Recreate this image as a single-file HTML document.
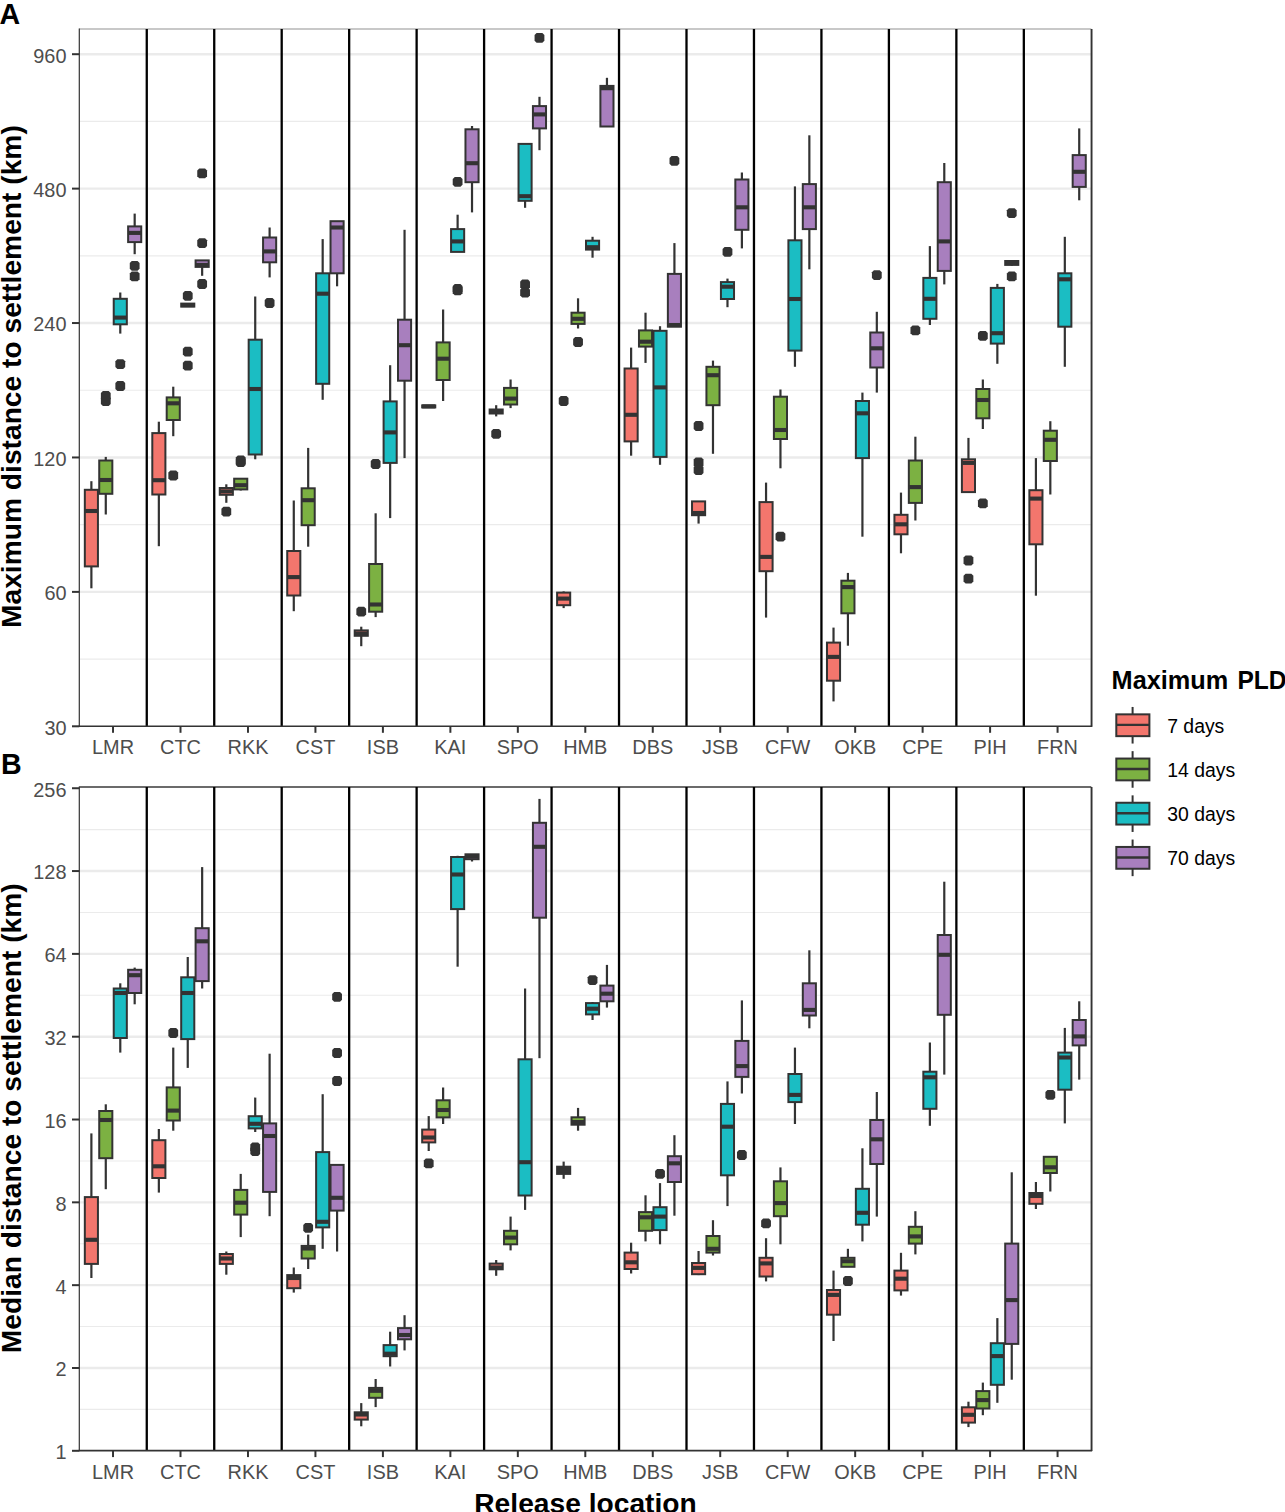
<!DOCTYPE html>
<html><head><meta charset="utf-8"><title>PLD boxplots</title>
<style>
html,body{margin:0;padding:0;background:#fff;}
body{width:1285px;height:1512px;overflow:hidden;}
svg{display:block;}
text{font-family:"Liberation Sans",sans-serif;}
.tk{font-size:19.9px;fill:#4D4D4D;}
.lg{font-size:19.4px;fill:#000;}
.ttl{font-size:28.2px;font-weight:bold;fill:#000;}
.tag{font-size:28.6px;font-weight:bold;fill:#000;}
.lt{font-size:25.3px;font-weight:bold;fill:#000;}
</style></head>
<body>
<svg width="1285" height="1512" viewBox="0 0 1285 1512">
<rect width="1285" height="1512" fill="#fff"/>
<line x1="79.3" x2="1091.3" y1="659.09" y2="659.09" stroke="#EBEBEB" stroke-width="1.1"/>
<line x1="79.3" x2="1091.3" y1="524.67" y2="524.67" stroke="#EBEBEB" stroke-width="1.1"/>
<line x1="79.3" x2="1091.3" y1="390.25" y2="390.25" stroke="#EBEBEB" stroke-width="1.1"/>
<line x1="79.3" x2="1091.3" y1="255.83" y2="255.83" stroke="#EBEBEB" stroke-width="1.1"/>
<line x1="79.3" x2="1091.3" y1="121.41" y2="121.41" stroke="#EBEBEB" stroke-width="1.1"/>
<line x1="79.3" x2="1091.3" y1="591.88" y2="591.88" stroke="#EBEBEB" stroke-width="2.4"/>
<line x1="79.3" x2="1091.3" y1="457.46" y2="457.46" stroke="#EBEBEB" stroke-width="2.4"/>
<line x1="79.3" x2="1091.3" y1="323.04" y2="323.04" stroke="#EBEBEB" stroke-width="2.4"/>
<line x1="79.3" x2="1091.3" y1="188.62" y2="188.62" stroke="#EBEBEB" stroke-width="2.4"/>
<line x1="79.3" x2="1091.3" y1="54.2" y2="54.2" stroke="#EBEBEB" stroke-width="2.4"/>
<line x1="79.3" x2="1091.3" y1="29" y2="29" stroke="#C8C8C8" stroke-width="2"/>
<line x1="146.77" x2="146.77" y1="28.9" y2="726.3" stroke="#000" stroke-width="2.3"/>
<line x1="214.23" x2="214.23" y1="28.9" y2="726.3" stroke="#000" stroke-width="2.3"/>
<line x1="281.7" x2="281.7" y1="28.9" y2="726.3" stroke="#000" stroke-width="2.3"/>
<line x1="349.17" x2="349.17" y1="28.9" y2="726.3" stroke="#000" stroke-width="2.3"/>
<line x1="416.63" x2="416.63" y1="28.9" y2="726.3" stroke="#000" stroke-width="2.3"/>
<line x1="484.1" x2="484.1" y1="28.9" y2="726.3" stroke="#000" stroke-width="2.3"/>
<line x1="551.57" x2="551.57" y1="28.9" y2="726.3" stroke="#000" stroke-width="2.3"/>
<line x1="619.03" x2="619.03" y1="28.9" y2="726.3" stroke="#000" stroke-width="2.3"/>
<line x1="686.5" x2="686.5" y1="28.9" y2="726.3" stroke="#000" stroke-width="2.3"/>
<line x1="753.97" x2="753.97" y1="28.9" y2="726.3" stroke="#000" stroke-width="2.3"/>
<line x1="821.43" x2="821.43" y1="28.9" y2="726.3" stroke="#000" stroke-width="2.3"/>
<line x1="888.9" x2="888.9" y1="28.9" y2="726.3" stroke="#000" stroke-width="2.3"/>
<line x1="956.37" x2="956.37" y1="28.9" y2="726.3" stroke="#000" stroke-width="2.3"/>
<line x1="1023.83" x2="1023.83" y1="28.9" y2="726.3" stroke="#000" stroke-width="2.3"/>
<line x1="91.38" x2="91.38" y1="481.2" y2="489.8" stroke="#333333" stroke-width="2.2"/>
<line x1="91.38" x2="91.38" y1="566.4" y2="588.3" stroke="#333333" stroke-width="2.2"/>
<rect x="84.83" y="489.8" width="13.1" height="76.6" fill="#F3766D" stroke="#333333" stroke-width="2.0"/>
<line x1="84.83" x2="97.93" y1="511" y2="511" stroke="#333333" stroke-width="4.1"/>
<line x1="105.78" x2="105.78" y1="456.9" y2="460.5" stroke="#333333" stroke-width="2.2"/>
<line x1="105.78" x2="105.78" y1="493.8" y2="514.5" stroke="#333333" stroke-width="2.2"/>
<rect x="99.23" y="460.5" width="13.1" height="33.3" fill="#7CB142" stroke="#333333" stroke-width="2.0"/>
<line x1="99.23" x2="112.33" y1="480" y2="480" stroke="#333333" stroke-width="4.1"/>
<polygon points="102.88,391.1 108.68,391.1 110.68,393.1 110.68,398.9 108.68,400.9 102.88,400.9 100.88,398.9 100.88,393.1" fill="#333333"/>
<polygon points="102.88,396.1 108.68,396.1 110.68,398.1 110.68,403.9 108.68,405.9 102.88,405.9 100.88,403.9 100.88,398.1" fill="#333333"/>
<line x1="120.28" x2="120.28" y1="292.5" y2="298.8" stroke="#333333" stroke-width="2.2"/>
<line x1="120.28" x2="120.28" y1="324.3" y2="333.6" stroke="#333333" stroke-width="2.2"/>
<rect x="113.73" y="298.8" width="13.1" height="25.5" fill="#1BBDC3" stroke="#333333" stroke-width="2.0"/>
<line x1="113.73" x2="126.83" y1="317.6" y2="317.6" stroke="#333333" stroke-width="4.1"/>
<polygon points="117.38,359.3 123.18,359.3 125.18,361.3 125.18,367.1 123.18,369.1 117.38,369.1 115.38,367.1 115.38,361.3" fill="#333333"/>
<polygon points="117.38,381.1 123.18,381.1 125.18,383.1 125.18,388.9 123.18,390.9 117.38,390.9 115.38,388.9 115.38,383.1" fill="#333333"/>
<line x1="134.68" x2="134.68" y1="213.6" y2="226.4" stroke="#333333" stroke-width="2.2"/>
<line x1="134.68" x2="134.68" y1="242.1" y2="254.2" stroke="#333333" stroke-width="2.2"/>
<rect x="128.13" y="226.4" width="13.1" height="15.7" fill="#A87FBE" stroke="#333333" stroke-width="2.0"/>
<line x1="128.13" x2="141.23" y1="232.9" y2="232.9" stroke="#333333" stroke-width="4.1"/>
<polygon points="131.78,260.9 137.58,260.9 139.58,262.9 139.58,268.7 137.58,270.7 131.78,270.7 129.78,268.7 129.78,262.9" fill="#333333"/>
<polygon points="131.78,271.4 137.58,271.4 139.58,273.4 139.58,279.2 137.58,281.2 131.78,281.2 129.78,279.2 129.78,273.4" fill="#333333"/>
<line x1="158.85" x2="158.85" y1="421.7" y2="433.1" stroke="#333333" stroke-width="2.2"/>
<line x1="158.85" x2="158.85" y1="494.5" y2="546.2" stroke="#333333" stroke-width="2.2"/>
<rect x="152.3" y="433.1" width="13.1" height="61.4" fill="#F3766D" stroke="#333333" stroke-width="2.0"/>
<line x1="152.3" x2="165.4" y1="480.2" y2="480.2" stroke="#333333" stroke-width="4.1"/>
<line x1="173.25" x2="173.25" y1="386.7" y2="397.4" stroke="#333333" stroke-width="2.2"/>
<line x1="173.25" x2="173.25" y1="420" y2="436.2" stroke="#333333" stroke-width="2.2"/>
<rect x="166.7" y="397.4" width="13.1" height="22.6" fill="#7CB142" stroke="#333333" stroke-width="2.0"/>
<line x1="166.7" x2="179.8" y1="403.3" y2="403.3" stroke="#333333" stroke-width="4.1"/>
<polygon points="170.35,470.6 176.15,470.6 178.15,472.6 178.15,478.4 176.15,480.4 170.35,480.4 168.35,478.4 168.35,472.6" fill="#333333"/>
<rect x="181.2" y="303.6" width="13.1" height="3" fill="#1BBDC3" stroke="#333333" stroke-width="2.0"/>
<line x1="181.2" x2="194.3" y1="305.1" y2="305.1" stroke="#333333" stroke-width="4.1"/>
<polygon points="184.85,290.9 190.65,290.9 192.65,292.9 192.65,298.7 190.65,300.7 184.85,300.7 182.85,298.7 182.85,292.9" fill="#333333"/>
<polygon points="184.85,346.8 190.65,346.8 192.65,348.8 192.65,354.6 190.65,356.6 184.85,356.6 182.85,354.6 182.85,348.8" fill="#333333"/>
<polygon points="184.85,360.8 190.65,360.8 192.65,362.8 192.65,368.6 190.65,370.6 184.85,370.6 182.85,368.6 182.85,362.8" fill="#333333"/>
<line x1="202.15" x2="202.15" y1="266.9" y2="275.8" stroke="#333333" stroke-width="2.2"/>
<rect x="195.6" y="260.4" width="13.1" height="6.5" fill="#A87FBE" stroke="#333333" stroke-width="2.0"/>
<line x1="195.6" x2="208.7" y1="264.9" y2="264.9" stroke="#333333" stroke-width="4.1"/>
<polygon points="199.25,168.5 205.05,168.5 207.05,170.5 207.05,176.3 205.05,178.3 199.25,178.3 197.25,176.3 197.25,170.5" fill="#333333"/>
<polygon points="199.25,238.2 205.05,238.2 207.05,240.2 207.05,246 205.05,248 199.25,248 197.25,246 197.25,240.2" fill="#333333"/>
<polygon points="199.25,279.1 205.05,279.1 207.05,281.1 207.05,286.9 205.05,288.9 199.25,288.9 197.25,286.9 197.25,281.1" fill="#333333"/>
<line x1="226.32" x2="226.32" y1="484.3" y2="488" stroke="#333333" stroke-width="2.2"/>
<line x1="226.32" x2="226.32" y1="494.8" y2="502.8" stroke="#333333" stroke-width="2.2"/>
<rect x="219.77" y="488" width="13.1" height="6.8" fill="#F3766D" stroke="#333333" stroke-width="2.0"/>
<line x1="219.77" x2="232.87" y1="491.4" y2="491.4" stroke="#333333" stroke-width="4.1"/>
<polygon points="223.42,506.7 229.22,506.7 231.22,508.7 231.22,514.5 229.22,516.5 223.42,516.5 221.42,514.5 221.42,508.7" fill="#333333"/>
<line x1="240.72" x2="240.72" y1="489.4" y2="490.5" stroke="#333333" stroke-width="2.2"/>
<rect x="234.17" y="478.7" width="13.1" height="10.7" fill="#7CB142" stroke="#333333" stroke-width="2.0"/>
<line x1="234.17" x2="247.27" y1="485.2" y2="485.2" stroke="#333333" stroke-width="4.1"/>
<polygon points="237.82,455.4 243.62,455.4 245.62,457.4 245.62,463.2 243.62,465.2 237.82,465.2 235.82,463.2 235.82,457.4" fill="#333333"/>
<polygon points="237.82,457.1 243.62,457.1 245.62,459.1 245.62,464.9 243.62,466.9 237.82,466.9 235.82,464.9 235.82,459.1" fill="#333333"/>
<line x1="255.22" x2="255.22" y1="296.5" y2="339.7" stroke="#333333" stroke-width="2.2"/>
<line x1="255.22" x2="255.22" y1="454.5" y2="459.3" stroke="#333333" stroke-width="2.2"/>
<rect x="248.67" y="339.7" width="13.1" height="114.8" fill="#1BBDC3" stroke="#333333" stroke-width="2.0"/>
<line x1="248.67" x2="261.77" y1="389" y2="389" stroke="#333333" stroke-width="4.1"/>
<line x1="269.62" x2="269.62" y1="227.5" y2="237.5" stroke="#333333" stroke-width="2.2"/>
<line x1="269.62" x2="269.62" y1="262.3" y2="277.4" stroke="#333333" stroke-width="2.2"/>
<rect x="263.07" y="237.5" width="13.1" height="24.8" fill="#A87FBE" stroke="#333333" stroke-width="2.0"/>
<line x1="263.07" x2="276.17" y1="251.4" y2="251.4" stroke="#333333" stroke-width="4.1"/>
<polygon points="266.72,298.1 272.52,298.1 274.52,300.1 274.52,305.9 272.52,307.9 266.72,307.9 264.72,305.9 264.72,300.1" fill="#333333"/>
<line x1="293.78" x2="293.78" y1="500.5" y2="551" stroke="#333333" stroke-width="2.2"/>
<line x1="293.78" x2="293.78" y1="595.5" y2="611.2" stroke="#333333" stroke-width="2.2"/>
<rect x="287.23" y="551" width="13.1" height="44.5" fill="#F3766D" stroke="#333333" stroke-width="2.0"/>
<line x1="287.23" x2="300.33" y1="577.1" y2="577.1" stroke="#333333" stroke-width="4.1"/>
<line x1="308.18" x2="308.18" y1="447.9" y2="488.3" stroke="#333333" stroke-width="2.2"/>
<line x1="308.18" x2="308.18" y1="525.2" y2="546.7" stroke="#333333" stroke-width="2.2"/>
<rect x="301.63" y="488.3" width="13.1" height="36.9" fill="#7CB142" stroke="#333333" stroke-width="2.0"/>
<line x1="301.63" x2="314.73" y1="500.2" y2="500.2" stroke="#333333" stroke-width="4.1"/>
<line x1="322.68" x2="322.68" y1="239.1" y2="273.3" stroke="#333333" stroke-width="2.2"/>
<line x1="322.68" x2="322.68" y1="383.8" y2="399.8" stroke="#333333" stroke-width="2.2"/>
<rect x="316.13" y="273.3" width="13.1" height="110.5" fill="#1BBDC3" stroke="#333333" stroke-width="2.0"/>
<line x1="316.13" x2="329.23" y1="293.7" y2="293.7" stroke="#333333" stroke-width="4.1"/>
<line x1="337.08" x2="337.08" y1="273.3" y2="286.3" stroke="#333333" stroke-width="2.2"/>
<rect x="330.53" y="221.2" width="13.1" height="52.1" fill="#A87FBE" stroke="#333333" stroke-width="2.0"/>
<line x1="330.53" x2="343.63" y1="227.5" y2="227.5" stroke="#333333" stroke-width="4.1"/>
<line x1="361.25" x2="361.25" y1="626.7" y2="630.4" stroke="#333333" stroke-width="2.2"/>
<line x1="361.25" x2="361.25" y1="635.8" y2="646.2" stroke="#333333" stroke-width="2.2"/>
<rect x="354.7" y="630.4" width="13.1" height="5.4" fill="#F3766D" stroke="#333333" stroke-width="2.0"/>
<line x1="354.7" x2="367.8" y1="633.5" y2="633.5" stroke="#333333" stroke-width="4.1"/>
<polygon points="358.35,606.8 364.15,606.8 366.15,608.8 366.15,614.6 364.15,616.6 358.35,616.6 356.35,614.6 356.35,608.8" fill="#333333"/>
<line x1="375.65" x2="375.65" y1="513.3" y2="564" stroke="#333333" stroke-width="2.2"/>
<line x1="375.65" x2="375.65" y1="611.7" y2="617.1" stroke="#333333" stroke-width="2.2"/>
<rect x="369.1" y="564" width="13.1" height="47.7" fill="#7CB142" stroke="#333333" stroke-width="2.0"/>
<line x1="369.1" x2="382.2" y1="604.5" y2="604.5" stroke="#333333" stroke-width="4.1"/>
<polygon points="372.75,459.1 378.55,459.1 380.55,461.1 380.55,466.9 378.55,468.9 372.75,468.9 370.75,466.9 370.75,461.1" fill="#333333"/>
<line x1="390.15" x2="390.15" y1="365.2" y2="401.4" stroke="#333333" stroke-width="2.2"/>
<line x1="390.15" x2="390.15" y1="462.9" y2="518.1" stroke="#333333" stroke-width="2.2"/>
<rect x="383.6" y="401.4" width="13.1" height="61.5" fill="#1BBDC3" stroke="#333333" stroke-width="2.0"/>
<line x1="383.6" x2="396.7" y1="432.4" y2="432.4" stroke="#333333" stroke-width="4.1"/>
<line x1="404.55" x2="404.55" y1="229.8" y2="319.7" stroke="#333333" stroke-width="2.2"/>
<line x1="404.55" x2="404.55" y1="380.7" y2="458.1" stroke="#333333" stroke-width="2.2"/>
<rect x="398" y="319.7" width="13.1" height="61" fill="#A87FBE" stroke="#333333" stroke-width="2.0"/>
<line x1="398" x2="411.1" y1="345.2" y2="345.2" stroke="#333333" stroke-width="4.1"/>
<rect x="422.17" y="405.4" width="13.1" height="2" fill="#F3766D" stroke="#333333" stroke-width="2.0"/>
<line x1="422.17" x2="435.27" y1="406.4" y2="406.4" stroke="#333333" stroke-width="4.1"/>
<line x1="443.12" x2="443.12" y1="309.5" y2="342.4" stroke="#333333" stroke-width="2.2"/>
<line x1="443.12" x2="443.12" y1="380" y2="401" stroke="#333333" stroke-width="2.2"/>
<rect x="436.57" y="342.4" width="13.1" height="37.6" fill="#7CB142" stroke="#333333" stroke-width="2.0"/>
<line x1="436.57" x2="449.67" y1="358.7" y2="358.7" stroke="#333333" stroke-width="4.1"/>
<line x1="457.62" x2="457.62" y1="214.7" y2="229.1" stroke="#333333" stroke-width="2.2"/>
<rect x="451.07" y="229.1" width="13.1" height="22.8" fill="#1BBDC3" stroke="#333333" stroke-width="2.0"/>
<line x1="451.07" x2="464.17" y1="241.4" y2="241.4" stroke="#333333" stroke-width="4.1"/>
<polygon points="454.72,176.9 460.52,176.9 462.52,178.9 462.52,184.7 460.52,186.7 454.72,186.7 452.72,184.7 452.72,178.9" fill="#333333"/>
<polygon points="454.72,284 460.52,284 462.52,286 462.52,291.8 460.52,293.8 454.72,293.8 452.72,291.8 452.72,286" fill="#333333"/>
<polygon points="454.72,285.4 460.52,285.4 462.52,287.4 462.52,293.2 460.52,295.2 454.72,295.2 452.72,293.2 452.72,287.4" fill="#333333"/>
<line x1="472.02" x2="472.02" y1="126" y2="129.3" stroke="#333333" stroke-width="2.2"/>
<line x1="472.02" x2="472.02" y1="182.2" y2="212.4" stroke="#333333" stroke-width="2.2"/>
<rect x="465.47" y="129.3" width="13.1" height="52.9" fill="#A87FBE" stroke="#333333" stroke-width="2.0"/>
<line x1="465.47" x2="478.57" y1="163.2" y2="163.2" stroke="#333333" stroke-width="4.1"/>
<line x1="496.18" x2="496.18" y1="405.2" y2="409.5" stroke="#333333" stroke-width="2.2"/>
<line x1="496.18" x2="496.18" y1="413.5" y2="416.4" stroke="#333333" stroke-width="2.2"/>
<rect x="489.63" y="409.5" width="13.1" height="4" fill="#F3766D" stroke="#333333" stroke-width="2.0"/>
<line x1="489.63" x2="502.73" y1="411.7" y2="411.7" stroke="#333333" stroke-width="4.1"/>
<polygon points="493.28,428.9 499.08,428.9 501.08,430.9 501.08,436.7 499.08,438.7 493.28,438.7 491.28,436.7 491.28,430.9" fill="#333333"/>
<line x1="510.58" x2="510.58" y1="379.5" y2="387.9" stroke="#333333" stroke-width="2.2"/>
<line x1="510.58" x2="510.58" y1="404.5" y2="408.1" stroke="#333333" stroke-width="2.2"/>
<rect x="504.03" y="387.9" width="13.1" height="16.6" fill="#7CB142" stroke="#333333" stroke-width="2.0"/>
<line x1="504.03" x2="517.13" y1="398.6" y2="398.6" stroke="#333333" stroke-width="4.1"/>
<line x1="525.08" x2="525.08" y1="200.8" y2="207.8" stroke="#333333" stroke-width="2.2"/>
<rect x="518.53" y="143.9" width="13.1" height="56.9" fill="#1BBDC3" stroke="#333333" stroke-width="2.0"/>
<line x1="518.53" x2="531.63" y1="196.2" y2="196.2" stroke="#333333" stroke-width="4.1"/>
<polygon points="522.18,279.5 527.98,279.5 529.98,281.5 529.98,287.3 527.98,289.3 522.18,289.3 520.18,287.3 520.18,281.5" fill="#333333"/>
<polygon points="522.18,287.6 527.98,287.6 529.98,289.6 529.98,295.4 527.98,297.4 522.18,297.4 520.18,295.4 520.18,289.6" fill="#333333"/>
<line x1="539.48" x2="539.48" y1="96.8" y2="106.1" stroke="#333333" stroke-width="2.2"/>
<line x1="539.48" x2="539.48" y1="128.4" y2="150.2" stroke="#333333" stroke-width="2.2"/>
<rect x="532.93" y="106.1" width="13.1" height="22.3" fill="#A87FBE" stroke="#333333" stroke-width="2.0"/>
<line x1="532.93" x2="546.03" y1="114.4" y2="114.4" stroke="#333333" stroke-width="4.1"/>
<polygon points="536.58,32.9 542.38,32.9 544.38,34.9 544.38,40.7 542.38,42.7 536.58,42.7 534.58,40.7 534.58,34.9" fill="#333333"/>
<line x1="563.65" x2="563.65" y1="591.4" y2="592.6" stroke="#333333" stroke-width="2.2"/>
<line x1="563.65" x2="563.65" y1="605.2" y2="608.1" stroke="#333333" stroke-width="2.2"/>
<rect x="557.1" y="592.6" width="13.1" height="12.6" fill="#F3766D" stroke="#333333" stroke-width="2.0"/>
<line x1="557.1" x2="570.2" y1="598.6" y2="598.6" stroke="#333333" stroke-width="4.1"/>
<polygon points="560.75,396.1 566.55,396.1 568.55,398.1 568.55,403.9 566.55,405.9 560.75,405.9 558.75,403.9 558.75,398.1" fill="#333333"/>
<line x1="578.05" x2="578.05" y1="298.3" y2="312.7" stroke="#333333" stroke-width="2.2"/>
<line x1="578.05" x2="578.05" y1="323.9" y2="328.5" stroke="#333333" stroke-width="2.2"/>
<rect x="571.5" y="312.7" width="13.1" height="11.2" fill="#7CB142" stroke="#333333" stroke-width="2.0"/>
<line x1="571.5" x2="584.6" y1="318.8" y2="318.8" stroke="#333333" stroke-width="4.1"/>
<polygon points="575.15,337.1 580.95,337.1 582.95,339.1 582.95,344.9 580.95,346.9 575.15,346.9 573.15,344.9 573.15,339.1" fill="#333333"/>
<line x1="592.55" x2="592.55" y1="236.8" y2="240.7" stroke="#333333" stroke-width="2.2"/>
<line x1="592.55" x2="592.55" y1="249.6" y2="257.7" stroke="#333333" stroke-width="2.2"/>
<rect x="586" y="240.7" width="13.1" height="8.9" fill="#1BBDC3" stroke="#333333" stroke-width="2.0"/>
<line x1="586" x2="599.1" y1="247.2" y2="247.2" stroke="#333333" stroke-width="4.1"/>
<line x1="606.95" x2="606.95" y1="77.8" y2="85.9" stroke="#333333" stroke-width="2.2"/>
<rect x="600.4" y="85.9" width="13.1" height="40.6" fill="#A87FBE" stroke="#333333" stroke-width="2.0"/>
<line x1="600.4" x2="613.5" y1="88.2" y2="88.2" stroke="#333333" stroke-width="4.1"/>
<line x1="631.12" x2="631.12" y1="347.6" y2="368.5" stroke="#333333" stroke-width="2.2"/>
<line x1="631.12" x2="631.12" y1="441.4" y2="455.7" stroke="#333333" stroke-width="2.2"/>
<rect x="624.57" y="368.5" width="13.1" height="72.9" fill="#F3766D" stroke="#333333" stroke-width="2.0"/>
<line x1="624.57" x2="637.67" y1="414.8" y2="414.8" stroke="#333333" stroke-width="4.1"/>
<line x1="645.52" x2="645.52" y1="312.7" y2="330.4" stroke="#333333" stroke-width="2.2"/>
<line x1="645.52" x2="645.52" y1="346.6" y2="362.9" stroke="#333333" stroke-width="2.2"/>
<rect x="638.97" y="330.4" width="13.1" height="16.2" fill="#7CB142" stroke="#333333" stroke-width="2.0"/>
<line x1="638.97" x2="652.07" y1="341.7" y2="341.7" stroke="#333333" stroke-width="4.1"/>
<line x1="660.02" x2="660.02" y1="326.2" y2="330.8" stroke="#333333" stroke-width="2.2"/>
<line x1="660.02" x2="660.02" y1="456.9" y2="464.8" stroke="#333333" stroke-width="2.2"/>
<rect x="653.47" y="330.8" width="13.1" height="126.1" fill="#1BBDC3" stroke="#333333" stroke-width="2.0"/>
<line x1="653.47" x2="666.57" y1="387.4" y2="387.4" stroke="#333333" stroke-width="4.1"/>
<line x1="674.42" x2="674.42" y1="243.1" y2="273.9" stroke="#333333" stroke-width="2.2"/>
<rect x="667.87" y="273.9" width="13.1" height="52.8" fill="#A87FBE" stroke="#333333" stroke-width="2.0"/>
<line x1="667.87" x2="680.97" y1="325" y2="325" stroke="#333333" stroke-width="4.1"/>
<polygon points="671.52,156 677.32,156 679.32,158 679.32,163.8 677.32,165.8 671.52,165.8 669.52,163.8 669.52,158" fill="#333333"/>
<line x1="698.58" x2="698.58" y1="515.2" y2="523.6" stroke="#333333" stroke-width="2.2"/>
<rect x="692.03" y="501.4" width="13.1" height="13.8" fill="#F3766D" stroke="#333333" stroke-width="2.0"/>
<line x1="692.03" x2="705.13" y1="513" y2="513" stroke="#333333" stroke-width="4.1"/>
<polygon points="695.68,421.1 701.48,421.1 703.48,423.1 703.48,428.9 701.48,430.9 695.68,430.9 693.68,428.9 693.68,423.1" fill="#333333"/>
<polygon points="695.68,457.5 701.48,457.5 703.48,459.5 703.48,465.3 701.48,467.3 695.68,467.3 693.68,465.3 693.68,459.5" fill="#333333"/>
<polygon points="695.68,465.1 701.48,465.1 703.48,467.1 703.48,472.9 701.48,474.9 695.68,474.9 693.68,472.9 693.68,467.1" fill="#333333"/>
<line x1="712.98" x2="712.98" y1="360.6" y2="366.8" stroke="#333333" stroke-width="2.2"/>
<line x1="712.98" x2="712.98" y1="405.2" y2="453.8" stroke="#333333" stroke-width="2.2"/>
<rect x="706.43" y="366.8" width="13.1" height="38.4" fill="#7CB142" stroke="#333333" stroke-width="2.0"/>
<line x1="706.43" x2="719.53" y1="375.2" y2="375.2" stroke="#333333" stroke-width="4.1"/>
<line x1="727.48" x2="727.48" y1="278.6" y2="282.1" stroke="#333333" stroke-width="2.2"/>
<line x1="727.48" x2="727.48" y1="299" y2="307.2" stroke="#333333" stroke-width="2.2"/>
<rect x="720.93" y="282.1" width="13.1" height="16.9" fill="#1BBDC3" stroke="#333333" stroke-width="2.0"/>
<line x1="720.93" x2="734.03" y1="286.7" y2="286.7" stroke="#333333" stroke-width="4.1"/>
<polygon points="724.58,247 730.38,247 732.38,249 732.38,254.8 730.38,256.8 724.58,256.8 722.58,254.8 722.58,249" fill="#333333"/>
<line x1="741.88" x2="741.88" y1="172.5" y2="179.5" stroke="#333333" stroke-width="2.2"/>
<line x1="741.88" x2="741.88" y1="229.8" y2="248.4" stroke="#333333" stroke-width="2.2"/>
<rect x="735.33" y="179.5" width="13.1" height="50.3" fill="#A87FBE" stroke="#333333" stroke-width="2.0"/>
<line x1="735.33" x2="748.43" y1="207.3" y2="207.3" stroke="#333333" stroke-width="4.1"/>
<line x1="766.05" x2="766.05" y1="482.6" y2="502.1" stroke="#333333" stroke-width="2.2"/>
<line x1="766.05" x2="766.05" y1="571.2" y2="617.6" stroke="#333333" stroke-width="2.2"/>
<rect x="759.5" y="502.1" width="13.1" height="69.1" fill="#F3766D" stroke="#333333" stroke-width="2.0"/>
<line x1="759.5" x2="772.6" y1="556.9" y2="556.9" stroke="#333333" stroke-width="4.1"/>
<line x1="780.45" x2="780.45" y1="389.5" y2="396.7" stroke="#333333" stroke-width="2.2"/>
<line x1="780.45" x2="780.45" y1="439" y2="468.3" stroke="#333333" stroke-width="2.2"/>
<rect x="773.9" y="396.7" width="13.1" height="42.3" fill="#7CB142" stroke="#333333" stroke-width="2.0"/>
<line x1="773.9" x2="787" y1="430" y2="430" stroke="#333333" stroke-width="4.1"/>
<polygon points="777.55,531.8 783.35,531.8 785.35,533.8 785.35,539.6 783.35,541.6 777.55,541.6 775.55,539.6 775.55,533.8" fill="#333333"/>
<line x1="794.95" x2="794.95" y1="186.4" y2="240.3" stroke="#333333" stroke-width="2.2"/>
<line x1="794.95" x2="794.95" y1="350.6" y2="366.8" stroke="#333333" stroke-width="2.2"/>
<rect x="788.4" y="240.3" width="13.1" height="110.3" fill="#1BBDC3" stroke="#333333" stroke-width="2.0"/>
<line x1="788.4" x2="801.5" y1="299" y2="299" stroke="#333333" stroke-width="4.1"/>
<line x1="809.35" x2="809.35" y1="135.3" y2="184.1" stroke="#333333" stroke-width="2.2"/>
<line x1="809.35" x2="809.35" y1="229.1" y2="269.3" stroke="#333333" stroke-width="2.2"/>
<rect x="802.8" y="184.1" width="13.1" height="45" fill="#A87FBE" stroke="#333333" stroke-width="2.0"/>
<line x1="802.8" x2="815.9" y1="207.3" y2="207.3" stroke="#333333" stroke-width="4.1"/>
<line x1="833.52" x2="833.52" y1="627.6" y2="642.6" stroke="#333333" stroke-width="2.2"/>
<line x1="833.52" x2="833.52" y1="680.7" y2="701.4" stroke="#333333" stroke-width="2.2"/>
<rect x="826.97" y="642.6" width="13.1" height="38.1" fill="#F3766D" stroke="#333333" stroke-width="2.0"/>
<line x1="826.97" x2="840.07" y1="656.9" y2="656.9" stroke="#333333" stroke-width="4.1"/>
<line x1="847.92" x2="847.92" y1="572.9" y2="580.7" stroke="#333333" stroke-width="2.2"/>
<line x1="847.92" x2="847.92" y1="613.3" y2="645.7" stroke="#333333" stroke-width="2.2"/>
<rect x="841.37" y="580.7" width="13.1" height="32.6" fill="#7CB142" stroke="#333333" stroke-width="2.0"/>
<line x1="841.37" x2="854.47" y1="587.1" y2="587.1" stroke="#333333" stroke-width="4.1"/>
<line x1="862.42" x2="862.42" y1="392.6" y2="401" stroke="#333333" stroke-width="2.2"/>
<line x1="862.42" x2="862.42" y1="458.1" y2="536.7" stroke="#333333" stroke-width="2.2"/>
<rect x="855.87" y="401" width="13.1" height="57.1" fill="#1BBDC3" stroke="#333333" stroke-width="2.0"/>
<line x1="855.87" x2="868.97" y1="413.3" y2="413.3" stroke="#333333" stroke-width="4.1"/>
<line x1="876.82" x2="876.82" y1="311.8" y2="332.5" stroke="#333333" stroke-width="2.2"/>
<line x1="876.82" x2="876.82" y1="367.5" y2="392.6" stroke="#333333" stroke-width="2.2"/>
<rect x="870.27" y="332.5" width="13.1" height="35" fill="#A87FBE" stroke="#333333" stroke-width="2.0"/>
<line x1="870.27" x2="883.37" y1="348.3" y2="348.3" stroke="#333333" stroke-width="4.1"/>
<polygon points="873.92,270.2 879.72,270.2 881.72,272.2 881.72,278 879.72,280 873.92,280 871.92,278 871.92,272.2" fill="#333333"/>
<line x1="900.98" x2="900.98" y1="492.6" y2="514.8" stroke="#333333" stroke-width="2.2"/>
<line x1="900.98" x2="900.98" y1="534.3" y2="553.3" stroke="#333333" stroke-width="2.2"/>
<rect x="894.43" y="514.8" width="13.1" height="19.5" fill="#F3766D" stroke="#333333" stroke-width="2.0"/>
<line x1="894.43" x2="907.53" y1="524.3" y2="524.3" stroke="#333333" stroke-width="4.1"/>
<line x1="915.38" x2="915.38" y1="436.7" y2="460.5" stroke="#333333" stroke-width="2.2"/>
<line x1="915.38" x2="915.38" y1="502.9" y2="520.5" stroke="#333333" stroke-width="2.2"/>
<rect x="908.83" y="460.5" width="13.1" height="42.4" fill="#7CB142" stroke="#333333" stroke-width="2.0"/>
<line x1="908.83" x2="921.93" y1="487.1" y2="487.1" stroke="#333333" stroke-width="4.1"/>
<polygon points="912.48,325.5 918.28,325.5 920.28,327.5 920.28,333.3 918.28,335.3 912.48,335.3 910.48,333.3 910.48,327.5" fill="#333333"/>
<line x1="929.88" x2="929.88" y1="246.1" y2="277.9" stroke="#333333" stroke-width="2.2"/>
<line x1="929.88" x2="929.88" y1="318.8" y2="325" stroke="#333333" stroke-width="2.2"/>
<rect x="923.33" y="277.9" width="13.1" height="40.9" fill="#1BBDC3" stroke="#333333" stroke-width="2.0"/>
<line x1="923.33" x2="936.43" y1="298.8" y2="298.8" stroke="#333333" stroke-width="4.1"/>
<line x1="944.28" x2="944.28" y1="163" y2="182.2" stroke="#333333" stroke-width="2.2"/>
<line x1="944.28" x2="944.28" y1="270.9" y2="284.4" stroke="#333333" stroke-width="2.2"/>
<rect x="937.73" y="182.2" width="13.1" height="88.7" fill="#A87FBE" stroke="#333333" stroke-width="2.0"/>
<line x1="937.73" x2="950.83" y1="241.4" y2="241.4" stroke="#333333" stroke-width="4.1"/>
<line x1="968.45" x2="968.45" y1="437.9" y2="459.3" stroke="#333333" stroke-width="2.2"/>
<rect x="961.9" y="459.3" width="13.1" height="32.8" fill="#F3766D" stroke="#333333" stroke-width="2.0"/>
<line x1="961.9" x2="975" y1="462.9" y2="462.9" stroke="#333333" stroke-width="4.1"/>
<polygon points="965.55,555.6 971.35,555.6 973.35,557.6 973.35,563.4 971.35,565.4 965.55,565.4 963.55,563.4 963.55,557.6" fill="#333333"/>
<polygon points="965.55,573.7 971.35,573.7 973.35,575.7 973.35,581.5 971.35,583.5 965.55,583.5 963.55,581.5 963.55,575.7" fill="#333333"/>
<line x1="982.85" x2="982.85" y1="379.5" y2="389" stroke="#333333" stroke-width="2.2"/>
<line x1="982.85" x2="982.85" y1="418.3" y2="429" stroke="#333333" stroke-width="2.2"/>
<rect x="976.3" y="389" width="13.1" height="29.3" fill="#7CB142" stroke="#333333" stroke-width="2.0"/>
<line x1="976.3" x2="989.4" y1="400" y2="400" stroke="#333333" stroke-width="4.1"/>
<polygon points="979.95,331 985.75,331 987.75,333 987.75,338.8 985.75,340.8 979.95,340.8 977.95,338.8 977.95,333" fill="#333333"/>
<polygon points="979.95,498.4 985.75,498.4 987.75,500.4 987.75,506.2 985.75,508.2 979.95,508.2 977.95,506.2 977.95,500.4" fill="#333333"/>
<line x1="997.35" x2="997.35" y1="283.9" y2="287.9" stroke="#333333" stroke-width="2.2"/>
<line x1="997.35" x2="997.35" y1="343.6" y2="363.8" stroke="#333333" stroke-width="2.2"/>
<rect x="990.8" y="287.9" width="13.1" height="55.7" fill="#1BBDC3" stroke="#333333" stroke-width="2.0"/>
<line x1="990.8" x2="1003.9" y1="333.2" y2="333.2" stroke="#333333" stroke-width="4.1"/>
<line x1="1011.75" x2="1011.75" y1="264.9" y2="265.8" stroke="#333333" stroke-width="2.2"/>
<rect x="1005.2" y="261" width="13.1" height="3.9" fill="#A87FBE" stroke="#333333" stroke-width="2.0"/>
<line x1="1005.2" x2="1018.3" y1="263" y2="263" stroke="#333333" stroke-width="4.1"/>
<polygon points="1008.85,208.2 1014.65,208.2 1016.65,210.2 1016.65,216 1014.65,218 1008.85,218 1006.85,216 1006.85,210.2" fill="#333333"/>
<polygon points="1008.85,271.4 1014.65,271.4 1016.65,273.4 1016.65,279.2 1014.65,281.2 1008.85,281.2 1006.85,279.2 1006.85,273.4" fill="#333333"/>
<line x1="1035.92" x2="1035.92" y1="458.1" y2="490.2" stroke="#333333" stroke-width="2.2"/>
<line x1="1035.92" x2="1035.92" y1="544.3" y2="595.7" stroke="#333333" stroke-width="2.2"/>
<rect x="1029.37" y="490.2" width="13.1" height="54.1" fill="#F3766D" stroke="#333333" stroke-width="2.0"/>
<line x1="1029.37" x2="1042.47" y1="498.6" y2="498.6" stroke="#333333" stroke-width="4.1"/>
<line x1="1050.32" x2="1050.32" y1="421.2" y2="430.7" stroke="#333333" stroke-width="2.2"/>
<line x1="1050.32" x2="1050.32" y1="461" y2="494.5" stroke="#333333" stroke-width="2.2"/>
<rect x="1043.77" y="430.7" width="13.1" height="30.3" fill="#7CB142" stroke="#333333" stroke-width="2.0"/>
<line x1="1043.77" x2="1056.87" y1="439.8" y2="439.8" stroke="#333333" stroke-width="4.1"/>
<line x1="1064.82" x2="1064.82" y1="236.8" y2="273.3" stroke="#333333" stroke-width="2.2"/>
<line x1="1064.82" x2="1064.82" y1="326.7" y2="366.8" stroke="#333333" stroke-width="2.2"/>
<rect x="1058.27" y="273.3" width="13.1" height="53.4" fill="#1BBDC3" stroke="#333333" stroke-width="2.0"/>
<line x1="1058.27" x2="1071.37" y1="279.3" y2="279.3" stroke="#333333" stroke-width="4.1"/>
<line x1="1079.22" x2="1079.22" y1="128.4" y2="155.1" stroke="#333333" stroke-width="2.2"/>
<line x1="1079.22" x2="1079.22" y1="186.9" y2="200.3" stroke="#333333" stroke-width="2.2"/>
<rect x="1072.67" y="155.1" width="13.1" height="31.8" fill="#A87FBE" stroke="#333333" stroke-width="2.0"/>
<line x1="1072.67" x2="1085.77" y1="171.8" y2="171.8" stroke="#333333" stroke-width="4.1"/>
<line x1="79.3" x2="79.3" y1="28.5" y2="726.8" stroke="#333333" stroke-width="1.2"/>
<line x1="1091.55" x2="1091.55" y1="29" y2="726.8" stroke="#333333" stroke-width="1.9"/>
<line x1="78.8" x2="1092.1" y1="726.3" y2="726.3" stroke="#333333" stroke-width="1.6"/>
<line x1="72" x2="79.3" y1="726.3" y2="726.3" stroke="#333333" stroke-width="2"/>
<text x="66.5" y="734.7" class="tk" text-anchor="end">30</text>
<line x1="72" x2="79.3" y1="591.88" y2="591.88" stroke="#333333" stroke-width="2"/>
<text x="66.5" y="600.28" class="tk" text-anchor="end">60</text>
<line x1="72" x2="79.3" y1="457.46" y2="457.46" stroke="#333333" stroke-width="2"/>
<text x="66.5" y="465.86" class="tk" text-anchor="end">120</text>
<line x1="72" x2="79.3" y1="323.04" y2="323.04" stroke="#333333" stroke-width="2"/>
<text x="66.5" y="331.44" class="tk" text-anchor="end">240</text>
<line x1="72" x2="79.3" y1="188.62" y2="188.62" stroke="#333333" stroke-width="2"/>
<text x="66.5" y="197.02" class="tk" text-anchor="end">480</text>
<line x1="72" x2="79.3" y1="54.2" y2="54.2" stroke="#333333" stroke-width="2"/>
<text x="66.5" y="62.6" class="tk" text-anchor="end">960</text>
<line x1="113.03" x2="113.03" y1="726.3" y2="732.8" stroke="#333333" stroke-width="2"/>
<text x="113.03" y="754.2" class="tk" text-anchor="middle">LMR</text>
<line x1="180.5" x2="180.5" y1="726.3" y2="732.8" stroke="#333333" stroke-width="2"/>
<text x="180.5" y="754.2" class="tk" text-anchor="middle">CTC</text>
<line x1="247.97" x2="247.97" y1="726.3" y2="732.8" stroke="#333333" stroke-width="2"/>
<text x="247.97" y="754.2" class="tk" text-anchor="middle">RKK</text>
<line x1="315.43" x2="315.43" y1="726.3" y2="732.8" stroke="#333333" stroke-width="2"/>
<text x="315.43" y="754.2" class="tk" text-anchor="middle">CST</text>
<line x1="382.9" x2="382.9" y1="726.3" y2="732.8" stroke="#333333" stroke-width="2"/>
<text x="382.9" y="754.2" class="tk" text-anchor="middle">ISB</text>
<line x1="450.37" x2="450.37" y1="726.3" y2="732.8" stroke="#333333" stroke-width="2"/>
<text x="450.37" y="754.2" class="tk" text-anchor="middle">KAI</text>
<line x1="517.83" x2="517.83" y1="726.3" y2="732.8" stroke="#333333" stroke-width="2"/>
<text x="517.83" y="754.2" class="tk" text-anchor="middle">SPO</text>
<line x1="585.3" x2="585.3" y1="726.3" y2="732.8" stroke="#333333" stroke-width="2"/>
<text x="585.3" y="754.2" class="tk" text-anchor="middle">HMB</text>
<line x1="652.77" x2="652.77" y1="726.3" y2="732.8" stroke="#333333" stroke-width="2"/>
<text x="652.77" y="754.2" class="tk" text-anchor="middle">DBS</text>
<line x1="720.23" x2="720.23" y1="726.3" y2="732.8" stroke="#333333" stroke-width="2"/>
<text x="720.23" y="754.2" class="tk" text-anchor="middle">JSB</text>
<line x1="787.7" x2="787.7" y1="726.3" y2="732.8" stroke="#333333" stroke-width="2"/>
<text x="787.7" y="754.2" class="tk" text-anchor="middle">CFW</text>
<line x1="855.17" x2="855.17" y1="726.3" y2="732.8" stroke="#333333" stroke-width="2"/>
<text x="855.17" y="754.2" class="tk" text-anchor="middle">OKB</text>
<line x1="922.63" x2="922.63" y1="726.3" y2="732.8" stroke="#333333" stroke-width="2"/>
<text x="922.63" y="754.2" class="tk" text-anchor="middle">CPE</text>
<line x1="990.1" x2="990.1" y1="726.3" y2="732.8" stroke="#333333" stroke-width="2"/>
<text x="990.1" y="754.2" class="tk" text-anchor="middle">PIH</text>
<line x1="1057.57" x2="1057.57" y1="726.3" y2="732.8" stroke="#333333" stroke-width="2"/>
<text x="1057.57" y="754.2" class="tk" text-anchor="middle">FRN</text>
<line x1="79.3" x2="1091.3" y1="1409.39" y2="1409.39" stroke="#EBEBEB" stroke-width="1.1"/>
<line x1="79.3" x2="1091.3" y1="1326.57" y2="1326.57" stroke="#EBEBEB" stroke-width="1.1"/>
<line x1="79.3" x2="1091.3" y1="1243.75" y2="1243.75" stroke="#EBEBEB" stroke-width="1.1"/>
<line x1="79.3" x2="1091.3" y1="1160.93" y2="1160.93" stroke="#EBEBEB" stroke-width="1.1"/>
<line x1="79.3" x2="1091.3" y1="1078.11" y2="1078.11" stroke="#EBEBEB" stroke-width="1.1"/>
<line x1="79.3" x2="1091.3" y1="995.29" y2="995.29" stroke="#EBEBEB" stroke-width="1.1"/>
<line x1="79.3" x2="1091.3" y1="912.47" y2="912.47" stroke="#EBEBEB" stroke-width="1.1"/>
<line x1="79.3" x2="1091.3" y1="829.65" y2="829.65" stroke="#EBEBEB" stroke-width="1.1"/>
<line x1="79.3" x2="1091.3" y1="1367.98" y2="1367.98" stroke="#EBEBEB" stroke-width="2.4"/>
<line x1="79.3" x2="1091.3" y1="1285.16" y2="1285.16" stroke="#EBEBEB" stroke-width="2.4"/>
<line x1="79.3" x2="1091.3" y1="1202.34" y2="1202.34" stroke="#EBEBEB" stroke-width="2.4"/>
<line x1="79.3" x2="1091.3" y1="1119.52" y2="1119.52" stroke="#EBEBEB" stroke-width="2.4"/>
<line x1="79.3" x2="1091.3" y1="1036.7" y2="1036.7" stroke="#EBEBEB" stroke-width="2.4"/>
<line x1="79.3" x2="1091.3" y1="953.88" y2="953.88" stroke="#EBEBEB" stroke-width="2.4"/>
<line x1="79.3" x2="1091.3" y1="871.06" y2="871.06" stroke="#EBEBEB" stroke-width="2.4"/>
<line x1="79.3" x2="1091.3" y1="787" y2="787" stroke="#3A3A3A" stroke-width="1.6"/>
<line x1="146.77" x2="146.77" y1="786.9" y2="1450.6" stroke="#000" stroke-width="2.3"/>
<line x1="214.23" x2="214.23" y1="786.9" y2="1450.6" stroke="#000" stroke-width="2.3"/>
<line x1="281.7" x2="281.7" y1="786.9" y2="1450.6" stroke="#000" stroke-width="2.3"/>
<line x1="349.17" x2="349.17" y1="786.9" y2="1450.6" stroke="#000" stroke-width="2.3"/>
<line x1="416.63" x2="416.63" y1="786.9" y2="1450.6" stroke="#000" stroke-width="2.3"/>
<line x1="484.1" x2="484.1" y1="786.9" y2="1450.6" stroke="#000" stroke-width="2.3"/>
<line x1="551.57" x2="551.57" y1="786.9" y2="1450.6" stroke="#000" stroke-width="2.3"/>
<line x1="619.03" x2="619.03" y1="786.9" y2="1450.6" stroke="#000" stroke-width="2.3"/>
<line x1="686.5" x2="686.5" y1="786.9" y2="1450.6" stroke="#000" stroke-width="2.3"/>
<line x1="753.97" x2="753.97" y1="786.9" y2="1450.6" stroke="#000" stroke-width="2.3"/>
<line x1="821.43" x2="821.43" y1="786.9" y2="1450.6" stroke="#000" stroke-width="2.3"/>
<line x1="888.9" x2="888.9" y1="786.9" y2="1450.6" stroke="#000" stroke-width="2.3"/>
<line x1="956.37" x2="956.37" y1="786.9" y2="1450.6" stroke="#000" stroke-width="2.3"/>
<line x1="1023.83" x2="1023.83" y1="786.9" y2="1450.6" stroke="#000" stroke-width="2.3"/>
<line x1="91.38" x2="91.38" y1="1133.4" y2="1197.1" stroke="#333333" stroke-width="2.2"/>
<line x1="91.38" x2="91.38" y1="1263.9" y2="1278" stroke="#333333" stroke-width="2.2"/>
<rect x="84.83" y="1197.1" width="13.1" height="66.8" fill="#F3766D" stroke="#333333" stroke-width="2.0"/>
<line x1="84.83" x2="97.93" y1="1239.8" y2="1239.8" stroke="#333333" stroke-width="4.1"/>
<line x1="105.78" x2="105.78" y1="1104.3" y2="1111" stroke="#333333" stroke-width="2.2"/>
<line x1="105.78" x2="105.78" y1="1158.2" y2="1189.2" stroke="#333333" stroke-width="2.2"/>
<rect x="99.23" y="1111" width="13.1" height="47.2" fill="#7CB142" stroke="#333333" stroke-width="2.0"/>
<line x1="99.23" x2="112.33" y1="1120" y2="1120" stroke="#333333" stroke-width="4.1"/>
<line x1="120.28" x2="120.28" y1="983.3" y2="988.5" stroke="#333333" stroke-width="2.2"/>
<line x1="120.28" x2="120.28" y1="1038" y2="1052.6" stroke="#333333" stroke-width="2.2"/>
<rect x="113.73" y="988.5" width="13.1" height="49.5" fill="#1BBDC3" stroke="#333333" stroke-width="2.0"/>
<line x1="113.73" x2="126.83" y1="993" y2="993" stroke="#333333" stroke-width="4.1"/>
<line x1="134.68" x2="134.68" y1="967.6" y2="969.8" stroke="#333333" stroke-width="2.2"/>
<line x1="134.68" x2="134.68" y1="993" y2="1004.3" stroke="#333333" stroke-width="2.2"/>
<rect x="128.13" y="969.8" width="13.1" height="23.2" fill="#A87FBE" stroke="#333333" stroke-width="2.0"/>
<line x1="128.13" x2="141.23" y1="975.2" y2="975.2" stroke="#333333" stroke-width="4.1"/>
<line x1="158.85" x2="158.85" y1="1129" y2="1140.2" stroke="#333333" stroke-width="2.2"/>
<line x1="158.85" x2="158.85" y1="1178" y2="1192.6" stroke="#333333" stroke-width="2.2"/>
<rect x="152.3" y="1140.2" width="13.1" height="37.8" fill="#F3766D" stroke="#333333" stroke-width="2.0"/>
<line x1="152.3" x2="165.4" y1="1166.3" y2="1166.3" stroke="#333333" stroke-width="4.1"/>
<line x1="173.25" x2="173.25" y1="1047.6" y2="1087.4" stroke="#333333" stroke-width="2.2"/>
<line x1="173.25" x2="173.25" y1="1120.5" y2="1130.7" stroke="#333333" stroke-width="2.2"/>
<rect x="166.7" y="1087.4" width="13.1" height="33.1" fill="#7CB142" stroke="#333333" stroke-width="2.0"/>
<line x1="166.7" x2="179.8" y1="1110.6" y2="1110.6" stroke="#333333" stroke-width="4.1"/>
<polygon points="170.35,1028.1 176.15,1028.1 178.15,1030.1 178.15,1035.9 176.15,1037.9 170.35,1037.9 168.35,1035.9 168.35,1030.1" fill="#333333"/>
<line x1="187.75" x2="187.75" y1="957" y2="977.3" stroke="#333333" stroke-width="2.2"/>
<line x1="187.75" x2="187.75" y1="1039.1" y2="1067.9" stroke="#333333" stroke-width="2.2"/>
<rect x="181.2" y="977.3" width="13.1" height="61.8" fill="#1BBDC3" stroke="#333333" stroke-width="2.0"/>
<line x1="181.2" x2="194.3" y1="993" y2="993" stroke="#333333" stroke-width="4.1"/>
<line x1="202.15" x2="202.15" y1="867.1" y2="928.2" stroke="#333333" stroke-width="2.2"/>
<line x1="202.15" x2="202.15" y1="981.1" y2="988.5" stroke="#333333" stroke-width="2.2"/>
<rect x="195.6" y="928.2" width="13.1" height="52.9" fill="#A87FBE" stroke="#333333" stroke-width="2.0"/>
<line x1="195.6" x2="208.7" y1="941.3" y2="941.3" stroke="#333333" stroke-width="4.1"/>
<line x1="226.32" x2="226.32" y1="1251.5" y2="1254" stroke="#333333" stroke-width="2.2"/>
<line x1="226.32" x2="226.32" y1="1263.9" y2="1274.7" stroke="#333333" stroke-width="2.2"/>
<rect x="219.77" y="1254" width="13.1" height="9.9" fill="#F3766D" stroke="#333333" stroke-width="2.0"/>
<line x1="219.77" x2="232.87" y1="1258.5" y2="1258.5" stroke="#333333" stroke-width="4.1"/>
<line x1="240.72" x2="240.72" y1="1173.9" y2="1189.9" stroke="#333333" stroke-width="2.2"/>
<line x1="240.72" x2="240.72" y1="1214.6" y2="1237.1" stroke="#333333" stroke-width="2.2"/>
<rect x="234.17" y="1189.9" width="13.1" height="24.7" fill="#7CB142" stroke="#333333" stroke-width="2.0"/>
<line x1="234.17" x2="247.27" y1="1202.7" y2="1202.7" stroke="#333333" stroke-width="4.1"/>
<line x1="255.22" x2="255.22" y1="1097.6" y2="1116.2" stroke="#333333" stroke-width="2.2"/>
<line x1="255.22" x2="255.22" y1="1128.4" y2="1132" stroke="#333333" stroke-width="2.2"/>
<rect x="248.67" y="1116.2" width="13.1" height="12.2" fill="#1BBDC3" stroke="#333333" stroke-width="2.0"/>
<line x1="248.67" x2="261.77" y1="1123.8" y2="1123.8" stroke="#333333" stroke-width="4.1"/>
<polygon points="252.32,1142.6 258.12,1142.6 260.12,1144.6 260.12,1150.4 258.12,1152.4 252.32,1152.4 250.32,1150.4 250.32,1144.6" fill="#333333"/>
<polygon points="252.32,1146.1 258.12,1146.1 260.12,1148.1 260.12,1153.9 258.12,1155.9 252.32,1155.9 250.32,1153.9 250.32,1148.1" fill="#333333"/>
<line x1="269.62" x2="269.62" y1="1053.7" y2="1123.4" stroke="#333333" stroke-width="2.2"/>
<line x1="269.62" x2="269.62" y1="1191.9" y2="1216.2" stroke="#333333" stroke-width="2.2"/>
<rect x="263.07" y="1123.4" width="13.1" height="68.5" fill="#A87FBE" stroke="#333333" stroke-width="2.0"/>
<line x1="263.07" x2="276.17" y1="1136" y2="1136" stroke="#333333" stroke-width="4.1"/>
<line x1="293.78" x2="293.78" y1="1267.5" y2="1275.1" stroke="#333333" stroke-width="2.2"/>
<line x1="293.78" x2="293.78" y1="1288.2" y2="1292.6" stroke="#333333" stroke-width="2.2"/>
<rect x="287.23" y="1275.1" width="13.1" height="13.1" fill="#F3766D" stroke="#333333" stroke-width="2.0"/>
<line x1="287.23" x2="300.33" y1="1278" y2="1278" stroke="#333333" stroke-width="4.1"/>
<line x1="308.18" x2="308.18" y1="1234.6" y2="1245.9" stroke="#333333" stroke-width="2.2"/>
<line x1="308.18" x2="308.18" y1="1258.5" y2="1269" stroke="#333333" stroke-width="2.2"/>
<rect x="301.63" y="1245.9" width="13.1" height="12.6" fill="#7CB142" stroke="#333333" stroke-width="2.0"/>
<line x1="301.63" x2="314.73" y1="1248.5" y2="1248.5" stroke="#333333" stroke-width="4.1"/>
<polygon points="305.28,1223 311.08,1223 313.08,1225 313.08,1230.8 311.08,1232.8 305.28,1232.8 303.28,1230.8 303.28,1225" fill="#333333"/>
<line x1="322.68" x2="322.68" y1="1094.2" y2="1152.1" stroke="#333333" stroke-width="2.2"/>
<line x1="322.68" x2="322.68" y1="1227.4" y2="1248.8" stroke="#333333" stroke-width="2.2"/>
<rect x="316.13" y="1152.1" width="13.1" height="75.3" fill="#1BBDC3" stroke="#333333" stroke-width="2.0"/>
<line x1="316.13" x2="329.23" y1="1221.8" y2="1221.8" stroke="#333333" stroke-width="4.1"/>
<line x1="337.08" x2="337.08" y1="1210.6" y2="1251.5" stroke="#333333" stroke-width="2.2"/>
<rect x="330.53" y="1164.9" width="13.1" height="45.7" fill="#A87FBE" stroke="#333333" stroke-width="2.0"/>
<line x1="330.53" x2="343.63" y1="1197.8" y2="1197.8" stroke="#333333" stroke-width="4.1"/>
<polygon points="334.18,991.9 339.98,991.9 341.98,993.9 341.98,999.7 339.98,1001.7 334.18,1001.7 332.18,999.7 332.18,993.9" fill="#333333"/>
<polygon points="334.18,1048.1 339.98,1048.1 341.98,1050.1 341.98,1055.9 339.98,1057.9 334.18,1057.9 332.18,1055.9 332.18,1050.1" fill="#333333"/>
<polygon points="334.18,1076.1 339.98,1076.1 341.98,1078.1 341.98,1083.9 339.98,1085.9 334.18,1085.9 332.18,1083.9 332.18,1078.1" fill="#333333"/>
<line x1="361.25" x2="361.25" y1="1403.1" y2="1412.3" stroke="#333333" stroke-width="2.2"/>
<line x1="361.25" x2="361.25" y1="1419.6" y2="1426.3" stroke="#333333" stroke-width="2.2"/>
<rect x="354.7" y="1412.3" width="13.1" height="7.3" fill="#F3766D" stroke="#333333" stroke-width="2.0"/>
<line x1="354.7" x2="367.8" y1="1414.5" y2="1414.5" stroke="#333333" stroke-width="4.1"/>
<line x1="375.65" x2="375.65" y1="1379" y2="1387.9" stroke="#333333" stroke-width="2.2"/>
<line x1="375.65" x2="375.65" y1="1397.8" y2="1407.1" stroke="#333333" stroke-width="2.2"/>
<rect x="369.1" y="1387.9" width="13.1" height="9.9" fill="#7CB142" stroke="#333333" stroke-width="2.0"/>
<line x1="369.1" x2="382.2" y1="1390.8" y2="1390.8" stroke="#333333" stroke-width="4.1"/>
<line x1="390.15" x2="390.15" y1="1331.7" y2="1345.1" stroke="#333333" stroke-width="2.2"/>
<line x1="390.15" x2="390.15" y1="1356.2" y2="1366.5" stroke="#333333" stroke-width="2.2"/>
<rect x="383.6" y="1345.1" width="13.1" height="11.1" fill="#1BBDC3" stroke="#333333" stroke-width="2.0"/>
<line x1="383.6" x2="396.7" y1="1353.7" y2="1353.7" stroke="#333333" stroke-width="4.1"/>
<line x1="404.55" x2="404.55" y1="1315.2" y2="1328.1" stroke="#333333" stroke-width="2.2"/>
<line x1="404.55" x2="404.55" y1="1339.3" y2="1350.4" stroke="#333333" stroke-width="2.2"/>
<rect x="398" y="1328.1" width="13.1" height="11.2" fill="#A87FBE" stroke="#333333" stroke-width="2.0"/>
<line x1="398" x2="411.1" y1="1335" y2="1335" stroke="#333333" stroke-width="4.1"/>
<line x1="428.72" x2="428.72" y1="1116.1" y2="1129.6" stroke="#333333" stroke-width="2.2"/>
<line x1="428.72" x2="428.72" y1="1142.4" y2="1151" stroke="#333333" stroke-width="2.2"/>
<rect x="422.17" y="1129.6" width="13.1" height="12.8" fill="#F3766D" stroke="#333333" stroke-width="2.0"/>
<line x1="422.17" x2="435.27" y1="1137.5" y2="1137.5" stroke="#333333" stroke-width="4.1"/>
<polygon points="425.82,1158.4 431.62,1158.4 433.62,1160.4 433.62,1166.2 431.62,1168.2 425.82,1168.2 423.82,1166.2 423.82,1160.4" fill="#333333"/>
<line x1="443.12" x2="443.12" y1="1087.5" y2="1100.3" stroke="#333333" stroke-width="2.2"/>
<line x1="443.12" x2="443.12" y1="1117.4" y2="1124" stroke="#333333" stroke-width="2.2"/>
<rect x="436.57" y="1100.3" width="13.1" height="17.1" fill="#7CB142" stroke="#333333" stroke-width="2.0"/>
<line x1="436.57" x2="449.67" y1="1110" y2="1110" stroke="#333333" stroke-width="4.1"/>
<line x1="457.62" x2="457.62" y1="855.8" y2="857" stroke="#333333" stroke-width="2.2"/>
<line x1="457.62" x2="457.62" y1="909.1" y2="966.7" stroke="#333333" stroke-width="2.2"/>
<rect x="451.07" y="857" width="13.1" height="52.1" fill="#1BBDC3" stroke="#333333" stroke-width="2.0"/>
<line x1="451.07" x2="464.17" y1="874.5" y2="874.5" stroke="#333333" stroke-width="4.1"/>
<line x1="472.02" x2="472.02" y1="859.2" y2="861.5" stroke="#333333" stroke-width="2.2"/>
<rect x="465.47" y="854.3" width="13.1" height="4.9" fill="#A87FBE" stroke="#333333" stroke-width="2.0"/>
<line x1="465.47" x2="478.57" y1="856.5" y2="856.5" stroke="#333333" stroke-width="4.1"/>
<line x1="496.18" x2="496.18" y1="1260" y2="1263.6" stroke="#333333" stroke-width="2.2"/>
<line x1="496.18" x2="496.18" y1="1269.3" y2="1275.8" stroke="#333333" stroke-width="2.2"/>
<rect x="489.63" y="1263.6" width="13.1" height="5.7" fill="#F3766D" stroke="#333333" stroke-width="2.0"/>
<line x1="489.63" x2="502.73" y1="1267.5" y2="1267.5" stroke="#333333" stroke-width="4.1"/>
<line x1="510.58" x2="510.58" y1="1216.6" y2="1230.8" stroke="#333333" stroke-width="2.2"/>
<line x1="510.58" x2="510.58" y1="1244.3" y2="1250.4" stroke="#333333" stroke-width="2.2"/>
<rect x="504.03" y="1230.8" width="13.1" height="13.5" fill="#7CB142" stroke="#333333" stroke-width="2.0"/>
<line x1="504.03" x2="517.13" y1="1237.6" y2="1237.6" stroke="#333333" stroke-width="4.1"/>
<line x1="525.08" x2="525.08" y1="988.5" y2="1059.3" stroke="#333333" stroke-width="2.2"/>
<line x1="525.08" x2="525.08" y1="1195.5" y2="1209.9" stroke="#333333" stroke-width="2.2"/>
<rect x="518.53" y="1059.3" width="13.1" height="136.2" fill="#1BBDC3" stroke="#333333" stroke-width="2.0"/>
<line x1="518.53" x2="531.63" y1="1162.2" y2="1162.2" stroke="#333333" stroke-width="4.1"/>
<line x1="539.48" x2="539.48" y1="798.9" y2="822.8" stroke="#333333" stroke-width="2.2"/>
<line x1="539.48" x2="539.48" y1="917.7" y2="1058.2" stroke="#333333" stroke-width="2.2"/>
<rect x="532.93" y="822.8" width="13.1" height="94.9" fill="#A87FBE" stroke="#333333" stroke-width="2.0"/>
<line x1="532.93" x2="546.03" y1="846.8" y2="846.8" stroke="#333333" stroke-width="4.1"/>
<line x1="563.65" x2="563.65" y1="1161.6" y2="1166.7" stroke="#333333" stroke-width="2.2"/>
<line x1="563.65" x2="563.65" y1="1173.9" y2="1178.8" stroke="#333333" stroke-width="2.2"/>
<rect x="557.1" y="1166.7" width="13.1" height="7.2" fill="#333333" stroke="#333333" stroke-width="2.0"/>
<line x1="557.1" x2="570.2" y1="1170.2" y2="1170.2" stroke="#333333" stroke-width="4.1"/>
<line x1="578.05" x2="578.05" y1="1107.9" y2="1117.3" stroke="#333333" stroke-width="2.2"/>
<line x1="578.05" x2="578.05" y1="1124.7" y2="1130.7" stroke="#333333" stroke-width="2.2"/>
<rect x="571.5" y="1117.3" width="13.1" height="7.4" fill="#7CB142" stroke="#333333" stroke-width="2.0"/>
<line x1="571.5" x2="584.6" y1="1122" y2="1122" stroke="#333333" stroke-width="4.1"/>
<line x1="592.55" x2="592.55" y1="1002" y2="1003.1" stroke="#333333" stroke-width="2.2"/>
<line x1="592.55" x2="592.55" y1="1014.4" y2="1020" stroke="#333333" stroke-width="2.2"/>
<rect x="586" y="1003.1" width="13.1" height="11.3" fill="#1BBDC3" stroke="#333333" stroke-width="2.0"/>
<line x1="586" x2="599.1" y1="1008.7" y2="1008.7" stroke="#333333" stroke-width="4.1"/>
<polygon points="589.65,975.3 595.45,975.3 597.45,977.3 597.45,983.1 595.45,985.1 589.65,985.1 587.65,983.1 587.65,977.3" fill="#333333"/>
<line x1="606.95" x2="606.95" y1="964.9" y2="985.6" stroke="#333333" stroke-width="2.2"/>
<line x1="606.95" x2="606.95" y1="1001.3" y2="1007.6" stroke="#333333" stroke-width="2.2"/>
<rect x="600.4" y="985.6" width="13.1" height="15.7" fill="#A87FBE" stroke="#333333" stroke-width="2.0"/>
<line x1="600.4" x2="613.5" y1="993.7" y2="993.7" stroke="#333333" stroke-width="4.1"/>
<line x1="631.12" x2="631.12" y1="1242.7" y2="1252.6" stroke="#333333" stroke-width="2.2"/>
<line x1="631.12" x2="631.12" y1="1269" y2="1273.5" stroke="#333333" stroke-width="2.2"/>
<rect x="624.57" y="1252.6" width="13.1" height="16.4" fill="#F3766D" stroke="#333333" stroke-width="2.0"/>
<line x1="624.57" x2="637.67" y1="1262.3" y2="1262.3" stroke="#333333" stroke-width="4.1"/>
<line x1="645.52" x2="645.52" y1="1195.3" y2="1212.1" stroke="#333333" stroke-width="2.2"/>
<line x1="645.52" x2="645.52" y1="1230.8" y2="1241.4" stroke="#333333" stroke-width="2.2"/>
<rect x="638.97" y="1212.1" width="13.1" height="18.7" fill="#7CB142" stroke="#333333" stroke-width="2.0"/>
<line x1="638.97" x2="652.07" y1="1217.3" y2="1217.3" stroke="#333333" stroke-width="4.1"/>
<line x1="660.02" x2="660.02" y1="1183.1" y2="1207.2" stroke="#333333" stroke-width="2.2"/>
<line x1="660.02" x2="660.02" y1="1230.1" y2="1244.3" stroke="#333333" stroke-width="2.2"/>
<rect x="653.47" y="1207.2" width="13.1" height="22.9" fill="#1BBDC3" stroke="#333333" stroke-width="2.0"/>
<line x1="653.47" x2="666.57" y1="1216.6" y2="1216.6" stroke="#333333" stroke-width="4.1"/>
<polygon points="657.12,1169 662.92,1169 664.92,1171 664.92,1176.8 662.92,1178.8 657.12,1178.8 655.12,1176.8 655.12,1171" fill="#333333"/>
<line x1="674.42" x2="674.42" y1="1135.2" y2="1156.2" stroke="#333333" stroke-width="2.2"/>
<line x1="674.42" x2="674.42" y1="1182" y2="1215.7" stroke="#333333" stroke-width="2.2"/>
<rect x="667.87" y="1156.2" width="13.1" height="25.8" fill="#A87FBE" stroke="#333333" stroke-width="2.0"/>
<line x1="667.87" x2="680.97" y1="1163.3" y2="1163.3" stroke="#333333" stroke-width="4.1"/>
<line x1="698.58" x2="698.58" y1="1251" y2="1263" stroke="#333333" stroke-width="2.2"/>
<line x1="698.58" x2="698.58" y1="1274.2" y2="1275.1" stroke="#333333" stroke-width="2.2"/>
<rect x="692.03" y="1263" width="13.1" height="11.2" fill="#F3766D" stroke="#333333" stroke-width="2.0"/>
<line x1="692.03" x2="705.13" y1="1267.9" y2="1267.9" stroke="#333333" stroke-width="4.1"/>
<line x1="712.98" x2="712.98" y1="1220.2" y2="1236" stroke="#333333" stroke-width="2.2"/>
<line x1="712.98" x2="712.98" y1="1252.6" y2="1255.5" stroke="#333333" stroke-width="2.2"/>
<rect x="706.43" y="1236" width="13.1" height="16.6" fill="#7CB142" stroke="#333333" stroke-width="2.0"/>
<line x1="706.43" x2="719.53" y1="1248.8" y2="1248.8" stroke="#333333" stroke-width="4.1"/>
<line x1="727.48" x2="727.48" y1="1081.4" y2="1103.9" stroke="#333333" stroke-width="2.2"/>
<line x1="727.48" x2="727.48" y1="1175.3" y2="1206.1" stroke="#333333" stroke-width="2.2"/>
<rect x="720.93" y="1103.9" width="13.1" height="71.4" fill="#1BBDC3" stroke="#333333" stroke-width="2.0"/>
<line x1="720.93" x2="734.03" y1="1126.7" y2="1126.7" stroke="#333333" stroke-width="4.1"/>
<line x1="741.88" x2="741.88" y1="1000.4" y2="1040.9" stroke="#333333" stroke-width="2.2"/>
<line x1="741.88" x2="741.88" y1="1076.9" y2="1093.5" stroke="#333333" stroke-width="2.2"/>
<rect x="735.33" y="1040.9" width="13.1" height="36" fill="#A87FBE" stroke="#333333" stroke-width="2.0"/>
<line x1="735.33" x2="748.43" y1="1066.1" y2="1066.1" stroke="#333333" stroke-width="4.1"/>
<polygon points="738.98,1150.1 744.78,1150.1 746.78,1152.1 746.78,1157.9 744.78,1159.9 738.98,1159.9 736.98,1157.9 736.98,1152.1" fill="#333333"/>
<line x1="766.05" x2="766.05" y1="1238.2" y2="1257.8" stroke="#333333" stroke-width="2.2"/>
<line x1="766.05" x2="766.05" y1="1276.5" y2="1281.4" stroke="#333333" stroke-width="2.2"/>
<rect x="759.5" y="1257.8" width="13.1" height="18.7" fill="#F3766D" stroke="#333333" stroke-width="2.0"/>
<line x1="759.5" x2="772.6" y1="1263.4" y2="1263.4" stroke="#333333" stroke-width="4.1"/>
<polygon points="763.15,1218.5 768.95,1218.5 770.95,1220.5 770.95,1226.3 768.95,1228.3 763.15,1228.3 761.15,1226.3 761.15,1220.5" fill="#333333"/>
<line x1="780.45" x2="780.45" y1="1167.4" y2="1181.3" stroke="#333333" stroke-width="2.2"/>
<line x1="780.45" x2="780.45" y1="1216.2" y2="1244.3" stroke="#333333" stroke-width="2.2"/>
<rect x="773.9" y="1181.3" width="13.1" height="34.9" fill="#7CB142" stroke="#333333" stroke-width="2.0"/>
<line x1="773.9" x2="787" y1="1203.1" y2="1203.1" stroke="#333333" stroke-width="4.1"/>
<line x1="794.95" x2="794.95" y1="1047.6" y2="1074" stroke="#333333" stroke-width="2.2"/>
<line x1="794.95" x2="794.95" y1="1102.1" y2="1124" stroke="#333333" stroke-width="2.2"/>
<rect x="788.4" y="1074" width="13.1" height="28.1" fill="#1BBDC3" stroke="#333333" stroke-width="2.0"/>
<line x1="788.4" x2="801.5" y1="1094.9" y2="1094.9" stroke="#333333" stroke-width="4.1"/>
<line x1="809.35" x2="809.35" y1="950.3" y2="983.3" stroke="#333333" stroke-width="2.2"/>
<line x1="809.35" x2="809.35" y1="1015.5" y2="1028.3" stroke="#333333" stroke-width="2.2"/>
<rect x="802.8" y="983.3" width="13.1" height="32.2" fill="#A87FBE" stroke="#333333" stroke-width="2.0"/>
<line x1="802.8" x2="815.9" y1="1009.9" y2="1009.9" stroke="#333333" stroke-width="4.1"/>
<line x1="833.52" x2="833.52" y1="1270.6" y2="1290" stroke="#333333" stroke-width="2.2"/>
<line x1="833.52" x2="833.52" y1="1314.7" y2="1341" stroke="#333333" stroke-width="2.2"/>
<rect x="826.97" y="1290" width="13.1" height="24.7" fill="#F3766D" stroke="#333333" stroke-width="2.0"/>
<line x1="826.97" x2="840.07" y1="1294.9" y2="1294.9" stroke="#333333" stroke-width="4.1"/>
<line x1="847.92" x2="847.92" y1="1248.8" y2="1257.8" stroke="#333333" stroke-width="2.2"/>
<rect x="841.37" y="1257.8" width="13.1" height="9" fill="#7CB142" stroke="#333333" stroke-width="2.0"/>
<line x1="841.37" x2="854.47" y1="1261.2" y2="1261.2" stroke="#333333" stroke-width="4.1"/>
<polygon points="845.02,1276.1 850.82,1276.1 852.82,1278.1 852.82,1283.9 850.82,1285.9 845.02,1285.9 843.02,1283.9 843.02,1278.1" fill="#333333"/>
<line x1="862.42" x2="862.42" y1="1148.3" y2="1188.8" stroke="#333333" stroke-width="2.2"/>
<line x1="862.42" x2="862.42" y1="1224.7" y2="1241.4" stroke="#333333" stroke-width="2.2"/>
<rect x="855.87" y="1188.8" width="13.1" height="35.9" fill="#1BBDC3" stroke="#333333" stroke-width="2.0"/>
<line x1="855.87" x2="868.97" y1="1212.8" y2="1212.8" stroke="#333333" stroke-width="4.1"/>
<line x1="876.82" x2="876.82" y1="1092" y2="1120" stroke="#333333" stroke-width="2.2"/>
<line x1="876.82" x2="876.82" y1="1164" y2="1216.6" stroke="#333333" stroke-width="2.2"/>
<rect x="870.27" y="1120" width="13.1" height="44" fill="#A87FBE" stroke="#333333" stroke-width="2.0"/>
<line x1="870.27" x2="883.37" y1="1139.3" y2="1139.3" stroke="#333333" stroke-width="4.1"/>
<line x1="900.98" x2="900.98" y1="1252.8" y2="1270.6" stroke="#333333" stroke-width="2.2"/>
<line x1="900.98" x2="900.98" y1="1290.4" y2="1295.6" stroke="#333333" stroke-width="2.2"/>
<rect x="894.43" y="1270.6" width="13.1" height="19.8" fill="#F3766D" stroke="#333333" stroke-width="2.0"/>
<line x1="894.43" x2="907.53" y1="1278.7" y2="1278.7" stroke="#333333" stroke-width="4.1"/>
<line x1="915.38" x2="915.38" y1="1211.2" y2="1226.8" stroke="#333333" stroke-width="2.2"/>
<line x1="915.38" x2="915.38" y1="1243.6" y2="1254.4" stroke="#333333" stroke-width="2.2"/>
<rect x="908.83" y="1226.8" width="13.1" height="16.8" fill="#7CB142" stroke="#333333" stroke-width="2.0"/>
<line x1="908.83" x2="921.93" y1="1236.4" y2="1236.4" stroke="#333333" stroke-width="4.1"/>
<line x1="929.88" x2="929.88" y1="1042.5" y2="1071.7" stroke="#333333" stroke-width="2.2"/>
<line x1="929.88" x2="929.88" y1="1108.8" y2="1125.8" stroke="#333333" stroke-width="2.2"/>
<rect x="923.33" y="1071.7" width="13.1" height="37.1" fill="#1BBDC3" stroke="#333333" stroke-width="2.0"/>
<line x1="923.33" x2="936.43" y1="1077.3" y2="1077.3" stroke="#333333" stroke-width="4.1"/>
<line x1="944.28" x2="944.28" y1="881.7" y2="935" stroke="#333333" stroke-width="2.2"/>
<line x1="944.28" x2="944.28" y1="1014.8" y2="1074.6" stroke="#333333" stroke-width="2.2"/>
<rect x="937.73" y="935" width="13.1" height="79.8" fill="#A87FBE" stroke="#333333" stroke-width="2.0"/>
<line x1="937.73" x2="950.83" y1="954.8" y2="954.8" stroke="#333333" stroke-width="4.1"/>
<line x1="968.45" x2="968.45" y1="1401.7" y2="1407.3" stroke="#333333" stroke-width="2.2"/>
<line x1="968.45" x2="968.45" y1="1422.6" y2="1427.1" stroke="#333333" stroke-width="2.2"/>
<rect x="961.9" y="1407.3" width="13.1" height="15.3" fill="#F3766D" stroke="#333333" stroke-width="2.0"/>
<line x1="961.9" x2="975" y1="1414.8" y2="1414.8" stroke="#333333" stroke-width="4.1"/>
<line x1="982.85" x2="982.85" y1="1382.6" y2="1391.1" stroke="#333333" stroke-width="2.2"/>
<line x1="982.85" x2="982.85" y1="1408.5" y2="1415.2" stroke="#333333" stroke-width="2.2"/>
<rect x="976.3" y="1391.1" width="13.1" height="17.4" fill="#7CB142" stroke="#333333" stroke-width="2.0"/>
<line x1="976.3" x2="989.4" y1="1400.1" y2="1400.1" stroke="#333333" stroke-width="4.1"/>
<line x1="997.35" x2="997.35" y1="1318.1" y2="1343.2" stroke="#333333" stroke-width="2.2"/>
<line x1="997.35" x2="997.35" y1="1384.8" y2="1402.8" stroke="#333333" stroke-width="2.2"/>
<rect x="990.8" y="1343.2" width="13.1" height="41.6" fill="#1BBDC3" stroke="#333333" stroke-width="2.0"/>
<line x1="990.8" x2="1003.9" y1="1356.1" y2="1356.1" stroke="#333333" stroke-width="4.1"/>
<line x1="1011.75" x2="1011.75" y1="1172.3" y2="1243.6" stroke="#333333" stroke-width="2.2"/>
<line x1="1011.75" x2="1011.75" y1="1343.9" y2="1379.7" stroke="#333333" stroke-width="2.2"/>
<rect x="1005.2" y="1243.6" width="13.1" height="100.3" fill="#A87FBE" stroke="#333333" stroke-width="2.0"/>
<line x1="1005.2" x2="1018.3" y1="1300.1" y2="1300.1" stroke="#333333" stroke-width="4.1"/>
<line x1="1035.92" x2="1035.92" y1="1182" y2="1193" stroke="#333333" stroke-width="2.2"/>
<line x1="1035.92" x2="1035.92" y1="1203.8" y2="1209" stroke="#333333" stroke-width="2.2"/>
<rect x="1029.37" y="1193" width="13.1" height="10.8" fill="#F3766D" stroke="#333333" stroke-width="2.0"/>
<line x1="1029.37" x2="1042.47" y1="1196" y2="1196" stroke="#333333" stroke-width="4.1"/>
<line x1="1050.32" x2="1050.32" y1="1173" y2="1191.5" stroke="#333333" stroke-width="2.2"/>
<rect x="1043.77" y="1156.8" width="13.1" height="16.2" fill="#7CB142" stroke="#333333" stroke-width="2.0"/>
<line x1="1043.77" x2="1056.87" y1="1167.3" y2="1167.3" stroke="#333333" stroke-width="4.1"/>
<polygon points="1047.42,1090 1053.22,1090 1055.22,1092 1055.22,1097.8 1053.22,1099.8 1047.42,1099.8 1045.42,1097.8 1045.42,1092" fill="#333333"/>
<line x1="1064.82" x2="1064.82" y1="1027.9" y2="1052.6" stroke="#333333" stroke-width="2.2"/>
<line x1="1064.82" x2="1064.82" y1="1089.7" y2="1123.4" stroke="#333333" stroke-width="2.2"/>
<rect x="1058.27" y="1052.6" width="13.1" height="37.1" fill="#1BBDC3" stroke="#333333" stroke-width="2.0"/>
<line x1="1058.27" x2="1071.37" y1="1057.5" y2="1057.5" stroke="#333333" stroke-width="4.1"/>
<line x1="1079.22" x2="1079.22" y1="1001.3" y2="1020" stroke="#333333" stroke-width="2.2"/>
<line x1="1079.22" x2="1079.22" y1="1045.4" y2="1079.6" stroke="#333333" stroke-width="2.2"/>
<rect x="1072.67" y="1020" width="13.1" height="25.4" fill="#A87FBE" stroke="#333333" stroke-width="2.0"/>
<line x1="1072.67" x2="1085.77" y1="1036.4" y2="1036.4" stroke="#333333" stroke-width="4.1"/>
<line x1="79.3" x2="79.3" y1="786.5" y2="1451.1" stroke="#333333" stroke-width="1.2"/>
<line x1="1091.55" x2="1091.55" y1="787" y2="1451.1" stroke="#333333" stroke-width="1.9"/>
<line x1="78.8" x2="1092.1" y1="1450.6" y2="1450.6" stroke="#333333" stroke-width="1.6"/>
<line x1="72" x2="79.3" y1="1450.8" y2="1450.8" stroke="#333333" stroke-width="2"/>
<text x="66.5" y="1459.2" class="tk" text-anchor="end">1</text>
<line x1="72" x2="79.3" y1="1367.98" y2="1367.98" stroke="#333333" stroke-width="2"/>
<text x="66.5" y="1376.38" class="tk" text-anchor="end">2</text>
<line x1="72" x2="79.3" y1="1285.16" y2="1285.16" stroke="#333333" stroke-width="2"/>
<text x="66.5" y="1293.56" class="tk" text-anchor="end">4</text>
<line x1="72" x2="79.3" y1="1202.34" y2="1202.34" stroke="#333333" stroke-width="2"/>
<text x="66.5" y="1210.74" class="tk" text-anchor="end">8</text>
<line x1="72" x2="79.3" y1="1119.52" y2="1119.52" stroke="#333333" stroke-width="2"/>
<text x="66.5" y="1127.92" class="tk" text-anchor="end">16</text>
<line x1="72" x2="79.3" y1="1036.7" y2="1036.7" stroke="#333333" stroke-width="2"/>
<text x="66.5" y="1045.1" class="tk" text-anchor="end">32</text>
<line x1="72" x2="79.3" y1="953.88" y2="953.88" stroke="#333333" stroke-width="2"/>
<text x="66.5" y="962.28" class="tk" text-anchor="end">64</text>
<line x1="72" x2="79.3" y1="871.06" y2="871.06" stroke="#333333" stroke-width="2"/>
<text x="66.5" y="879.46" class="tk" text-anchor="end">128</text>
<line x1="72" x2="79.3" y1="788.24" y2="788.24" stroke="#333333" stroke-width="2"/>
<text x="66.5" y="796.64" class="tk" text-anchor="end">256</text>
<line x1="113.03" x2="113.03" y1="1450.6" y2="1457.1" stroke="#333333" stroke-width="2"/>
<text x="113.03" y="1478.5" class="tk" text-anchor="middle">LMR</text>
<line x1="180.5" x2="180.5" y1="1450.6" y2="1457.1" stroke="#333333" stroke-width="2"/>
<text x="180.5" y="1478.5" class="tk" text-anchor="middle">CTC</text>
<line x1="247.97" x2="247.97" y1="1450.6" y2="1457.1" stroke="#333333" stroke-width="2"/>
<text x="247.97" y="1478.5" class="tk" text-anchor="middle">RKK</text>
<line x1="315.43" x2="315.43" y1="1450.6" y2="1457.1" stroke="#333333" stroke-width="2"/>
<text x="315.43" y="1478.5" class="tk" text-anchor="middle">CST</text>
<line x1="382.9" x2="382.9" y1="1450.6" y2="1457.1" stroke="#333333" stroke-width="2"/>
<text x="382.9" y="1478.5" class="tk" text-anchor="middle">ISB</text>
<line x1="450.37" x2="450.37" y1="1450.6" y2="1457.1" stroke="#333333" stroke-width="2"/>
<text x="450.37" y="1478.5" class="tk" text-anchor="middle">KAI</text>
<line x1="517.83" x2="517.83" y1="1450.6" y2="1457.1" stroke="#333333" stroke-width="2"/>
<text x="517.83" y="1478.5" class="tk" text-anchor="middle">SPO</text>
<line x1="585.3" x2="585.3" y1="1450.6" y2="1457.1" stroke="#333333" stroke-width="2"/>
<text x="585.3" y="1478.5" class="tk" text-anchor="middle">HMB</text>
<line x1="652.77" x2="652.77" y1="1450.6" y2="1457.1" stroke="#333333" stroke-width="2"/>
<text x="652.77" y="1478.5" class="tk" text-anchor="middle">DBS</text>
<line x1="720.23" x2="720.23" y1="1450.6" y2="1457.1" stroke="#333333" stroke-width="2"/>
<text x="720.23" y="1478.5" class="tk" text-anchor="middle">JSB</text>
<line x1="787.7" x2="787.7" y1="1450.6" y2="1457.1" stroke="#333333" stroke-width="2"/>
<text x="787.7" y="1478.5" class="tk" text-anchor="middle">CFW</text>
<line x1="855.17" x2="855.17" y1="1450.6" y2="1457.1" stroke="#333333" stroke-width="2"/>
<text x="855.17" y="1478.5" class="tk" text-anchor="middle">OKB</text>
<line x1="922.63" x2="922.63" y1="1450.6" y2="1457.1" stroke="#333333" stroke-width="2"/>
<text x="922.63" y="1478.5" class="tk" text-anchor="middle">CPE</text>
<line x1="990.1" x2="990.1" y1="1450.6" y2="1457.1" stroke="#333333" stroke-width="2"/>
<text x="990.1" y="1478.5" class="tk" text-anchor="middle">PIH</text>
<line x1="1057.57" x2="1057.57" y1="1450.6" y2="1457.1" stroke="#333333" stroke-width="2"/>
<text x="1057.57" y="1478.5" class="tk" text-anchor="middle">FRN</text>
<text transform="translate(-0.4,24) scale(1,1.045)" class="tag">A</text>
<text transform="translate(0.9,774.3) scale(1,1.045)" class="tag">B</text>
<text transform="translate(20.6,376.6) rotate(-90)" class="ttl" text-anchor="middle">Maximum distance to settlement (km)</text>
<text transform="translate(20.6,1118.3) rotate(-90)" class="ttl" text-anchor="middle">Median distance to settlement (km)</text>
<text x="585.5" y="1512.5" class="ttl" text-anchor="middle">Release location</text>
<text transform="translate(1111.6,688.8) scale(1,1.05)" class="lt">Maximum</text>
<text transform="translate(1237.4,688.8) scale(0.97,1.05)" class="lt">PLD</text>
<line x1="1132.6" x2="1132.6" y1="706.95" y2="743.55" stroke="#333333" stroke-width="2"/>
<rect x="1116.3" y="714.35" width="33.1" height="21.8" fill="#F3766D" stroke="#333333" stroke-width="2"/>
<line x1="1116.3" x2="1149.4" y1="724.85" y2="724.85" stroke="#333333" stroke-width="2.4"/>
<text x="1167.2" y="732.55" class="lg">7 days</text>
<line x1="1132.6" x2="1132.6" y1="751.15" y2="787.75" stroke="#333333" stroke-width="2"/>
<rect x="1116.3" y="758.55" width="33.1" height="21.8" fill="#7CB142" stroke="#333333" stroke-width="2"/>
<line x1="1116.3" x2="1149.4" y1="769.05" y2="769.05" stroke="#333333" stroke-width="2.4"/>
<text x="1167.2" y="776.75" class="lg">14 days</text>
<line x1="1132.6" x2="1132.6" y1="795.35" y2="831.95" stroke="#333333" stroke-width="2"/>
<rect x="1116.3" y="802.75" width="33.1" height="21.8" fill="#1BBDC3" stroke="#333333" stroke-width="2"/>
<line x1="1116.3" x2="1149.4" y1="813.25" y2="813.25" stroke="#333333" stroke-width="2.4"/>
<text x="1167.2" y="820.95" class="lg">30 days</text>
<line x1="1132.6" x2="1132.6" y1="839.55" y2="876.15" stroke="#333333" stroke-width="2"/>
<rect x="1116.3" y="846.95" width="33.1" height="21.8" fill="#A87FBE" stroke="#333333" stroke-width="2"/>
<line x1="1116.3" x2="1149.4" y1="857.45" y2="857.45" stroke="#333333" stroke-width="2.4"/>
<text x="1167.2" y="865.15" class="lg">70 days</text>
</svg>
</body></html>
